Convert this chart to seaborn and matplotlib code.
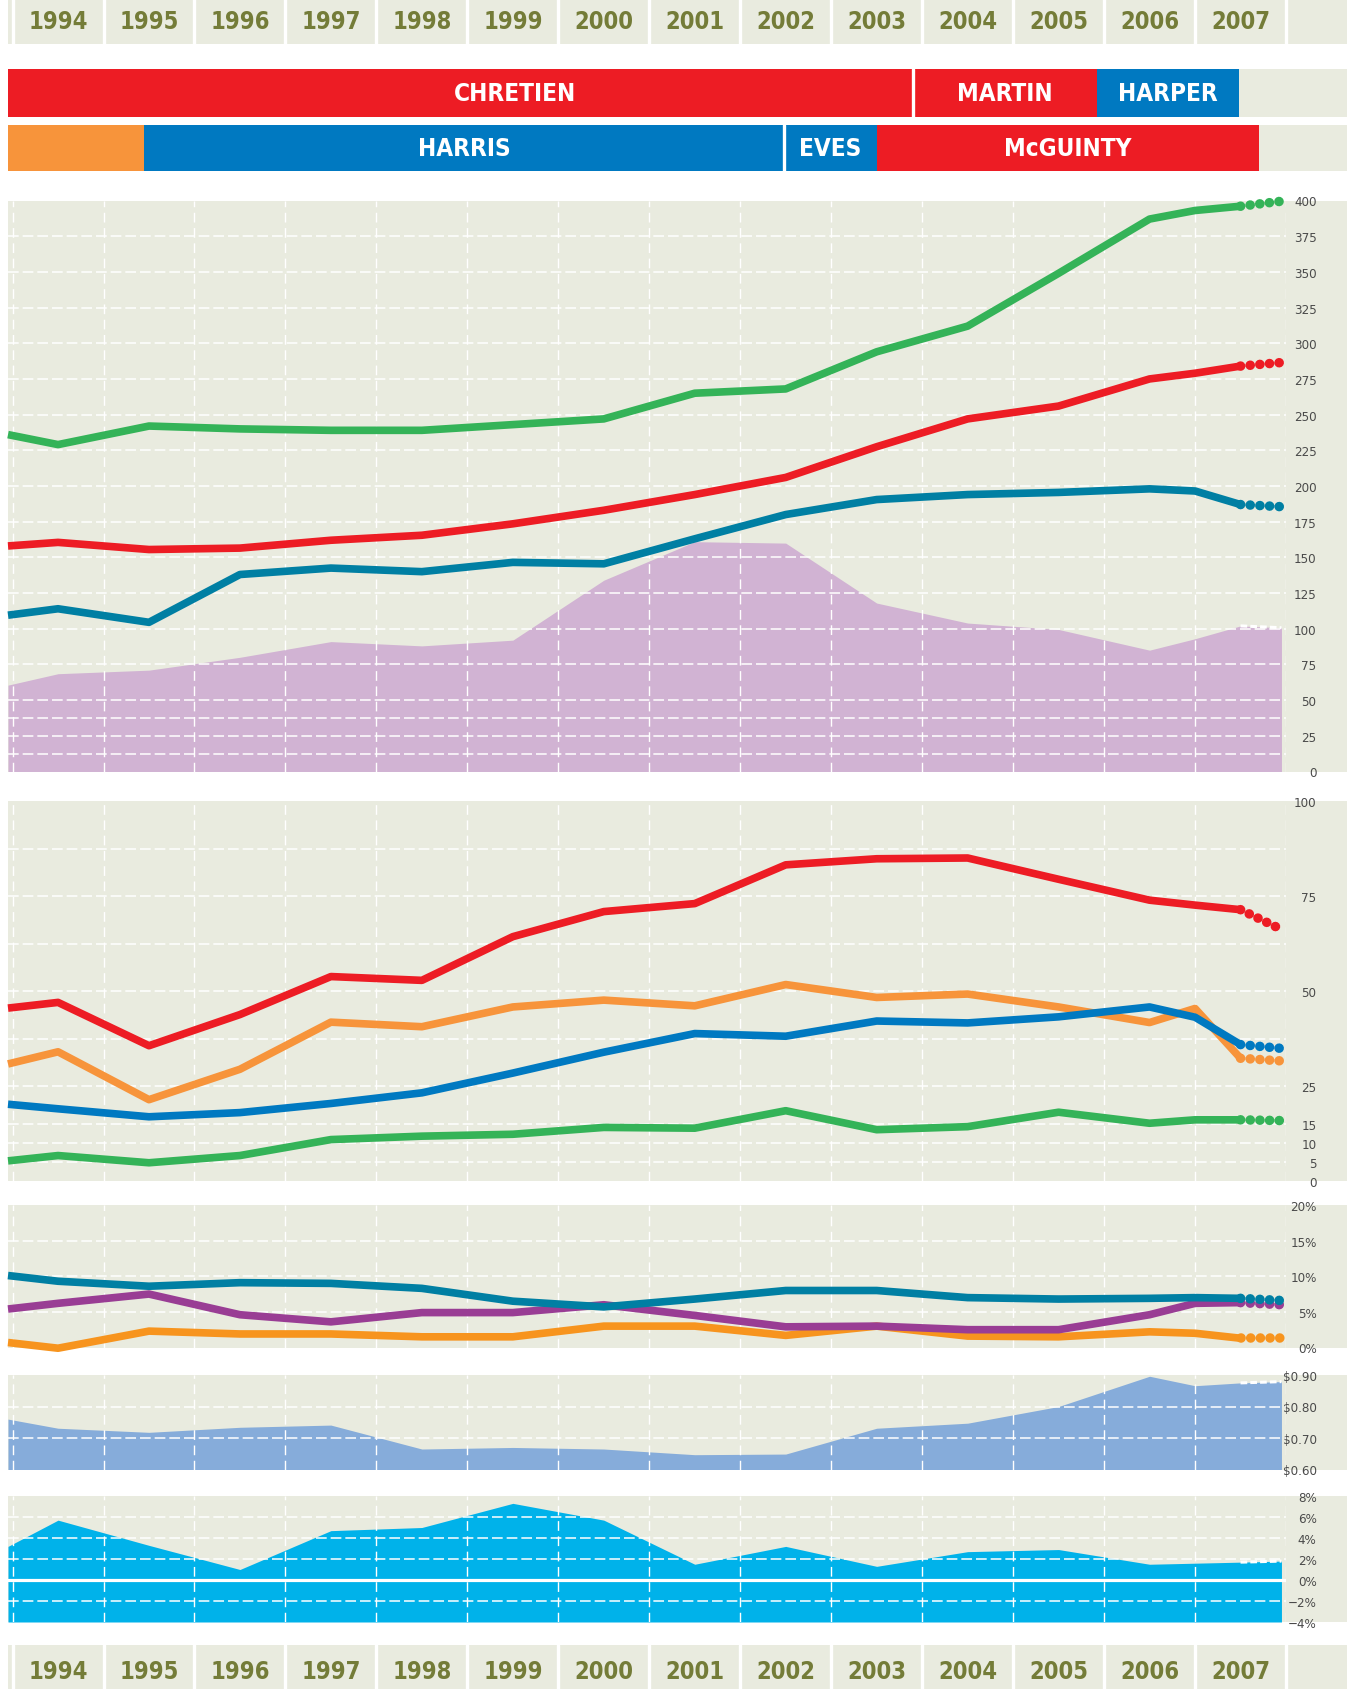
import numpy as np
import pandas as pd
import seaborn as sns
import matplotlib.pyplot as plt
from matplotlib import font_manager as fm
from matplotlib.patches import Rectangle

# x values: left edge of the chart, yearly readings, a mid-2006 reading, 2007
YEARS = [1993.45, 1994, 1995, 1996, 1997, 1998, 1999, 2000, 2001, 2002,
         2003, 2004, 2005, 2006, 2006.5, 2007]
PROJ_END = 2007.45
YEAR_LABELS = list(range(1994, 2008))

# panel 1 (0-400)
p1_green = [236, 229, 242, 240, 239, 239, 243, 247, 265, 268, 294, 312, 349, 387, 393, 396]
p1_red = [158, 160.5, 155.5, 156.5, 162, 165.5, 173.5, 183, 194, 206, 227.5, 247, 256, 275, 279, 284]
p1_teal = [109.5, 114, 104.5, 138, 142.5, 140, 146.5, 145.5, 163, 180, 190.5, 194, 195.5, 198, 196.5, 187]
p1_purple = [60.5, 68.5, 71, 80, 91, 88, 92, 134, 161, 160, 118, 104, 99.5, 85, 93, 102]
p1_proj = {"green": 399.5, "red": 286.5, "teal": 185.5, "purple": 100.7}

# panel 2 (0-100)
p2_red = [45.5, 47, 35.6, 43.8, 53.8, 52.8, 64.3, 70.9, 73, 83.2, 84.8, 85, 79.4, 73.9, 72.6, 71.4]
p2_orange = [30.8, 34, 21.4, 29.4, 41.8, 40.6, 45.8, 47.6, 46.1, 51.7, 48.3, 49.2, 45.8, 41.7, 45.4, 32.3]
p2_blue = [20.2, 19, 16.9, 18, 20.4, 23.2, 28.4, 33.9, 38.8, 38.1, 42.1, 41.6, 43.2, 45.8, 43.1, 35.9]
p2_green = [5.3, 6.7, 4.8, 6.7, 10.9, 11.8, 12.3, 14.1, 13.9, 18.5, 13.5, 14.3, 18.1, 15.2, 16.1, 16.1]
p2_proj = {"red": 66.2, "orange": 31.6, "blue": 34.9, "green": 15.9}

# panel 3 (percent)
p3_teal = [10.1, 9.3, 8.6, 9.1, 9.0, 8.3, 6.5, 5.7, 6.8, 8.0, 8.0, 7.0, 6.8, 6.9, 7.0, 6.9]
p3_purple = [5.4, 6.2, 7.5, 4.6, 3.6, 4.9, 4.9, 6.0, 4.5, 2.9, 3.0, 2.5, 2.5, 4.6, 6.2, 6.3]
p3_orange = [0.7, -0.1, 2.3, 1.9, 1.9, 1.5, 1.5, 3.0, 3.0, 1.7, 3.0, 1.6, 1.5, 2.2, 2.0, 1.3]
p3_proj = {"teal": 6.6, "purple": 6.0, "orange": 1.3}

# panel 4 (dollars)
p4_dollar = [0.760, 0.731, 0.718, 0.734, 0.741, 0.665, 0.670, 0.665, 0.647, 0.649,
             0.731, 0.747, 0.800, 0.896, 0.866, 0.875]
p4_proj = 0.879

# panel 5 (percent)
p5_growth = [3.2, 5.7, 3.3, 1.0, 4.7, 5.0, 7.3, 5.7, 1.5, 3.2, 1.3, 2.7, 2.9, 1.5, 1.6, 1.7]
p5_proj = 1.8

# leaders
FED_NAMES = ["CHRETIEN", "MARTIN", "HARPER"]
FED_START = [1993.0, 2003.40, 2005.42]
FED_END = [2003.40, 2005.42, 2006.98]
FED_PARTY = ["lib", "lib", "con"]
ONT_NAMES = ["", "HARRIS", "EVES", "McGUINTY"]
ONT_START = [1993.0, 1994.95, 2001.98, 2003.0]
ONT_END = [1994.95, 2001.98, 2003.0, 2007.2]
ONT_PARTY = ["ndp", "con", "con", "lib"]

# colours
BEIGE = "#e9ebdf"
OLIVE = "#747c38"
RED = "#ed1c24"
BLUE = "#0079c1"
ORANGE = "#f7943b"
ORANGE2 = "#f7941e"
GREEN = "#34b358"
TEAL = "#007fa3"
PURPLE_LINE = "#993d94"
PURPLE_AREA = "#d1b3d3"
DOLLAR_BLUE = "#86acda"
CYAN = "#00b2ea"
TICK_GREY = "#4a4a4a"
PARTY_COLORS = {"lib": RED, "con": BLUE, "ndp": ORANGE}

sns.set_style("white")

# pick the narrowest face that is installed
fonts = fm.fontManager.ttflist
names = {f.name for f in fonts}
if "Liberation Sans Narrow" in names:
    plt.rcParams["font.family"] = ["Liberation Sans Narrow", "DejaVu Sans"]
    YEAR_SIZE, NAME_SIZE = 20, 20.5
elif any(f.name == "DejaVu Sans" and f.stretch == "condensed" for f in fonts):
    plt.rcParams["font.family"] = ["DejaVu Sans"]
    plt.rcParams["font.stretch"] = "condensed"
    YEAR_SIZE, NAME_SIZE = 17, 17.5
else:
    plt.rcParams["font.family"] = ["Liberation Sans", "DejaVu Sans"]
    YEAR_SIZE, NAME_SIZE = 17, 17.5

W, H = 1347, 1690
fig = plt.figure(figsize=(W / 100, H / 100), dpi=100)

X_LEFT, X_PLOT_RIGHT, X_FULL_RIGHT = 8, 1286, 1347
XMIN, XMAX = 1993.45, 2007.5
ppy = (X_PLOT_RIGHT - X_LEFT) / (XMAX - XMIN)
XMAX_FULL = XMIN + (X_FULL_RIGHT - X_LEFT) / ppy


def make_axes(x0, x1, y0, y1):
    ax = fig.add_axes([x0 / W, 1 - y1 / H, (x1 - x0) / W, (y1 - y0) / H])
    for s in ax.spines.values():
        s.set_visible(False)
    ax.set_xticks([])
    ax.set_yticks([])
    return ax


def year_band(y0, y1):
    ax = make_axes(X_LEFT, X_FULL_RIGHT, y0, y1)
    ax.set_facecolor(BEIGE)
    ax.set_xlim(XMIN, XMAX_FULL)
    ax.set_ylim(0, 1)
    for b in np.arange(1993.5, 2008.5, 1.0):
        ax.axvline(b, color="white", lw=2.4)
    for yr in YEAR_LABELS:
        ax.text(yr, 0.5, str(yr), ha="center", va="center", color=OLIVE,
                fontsize=YEAR_SIZE, fontweight="bold")
    return ax


def leader_row(y0, y1, names, starts, ends, parties, label_shift):
    ax = make_axes(X_LEFT, X_FULL_RIGHT, y0, y1)
    ax.set_facecolor(BEIGE)
    ax.set_xlim(XMIN, XMAX_FULL)
    ax.set_ylim(-0.5, 0.5)
    prev = None
    for name, s, e, p in zip(names, starts, ends, parties):
        ax.barh(0, e - s, left=s, height=1.0, color=PARTY_COLORS[p], lw=0)
        if prev == p:
            ax.axvline(s, color="white", lw=2.4)
        prev = p
        if name:
            cx = max(s, XMIN) / 2 + e / 2 + label_shift.get(name, 0)
            ax.text(cx, 0, name, ha="center", va="center", color="white",
                    fontsize=NAME_SIZE, fontweight="bold")
    return ax


def panel(y0, y1, ylim, ticks, ticklabels, grid_y):
    # beige strip behind the panel, reaching under the tick labels
    fig.patches.append(Rectangle((X_LEFT / W, 1 - y1 / H), (X_FULL_RIGHT - X_LEFT) / W,
                                 (y1 - y0) / H, transform=fig.transFigure,
                                 facecolor=BEIGE, lw=0, zorder=-1))
    ax = make_axes(X_LEFT, X_PLOT_RIGHT, y0, y1)
    ax.set_facecolor(BEIGE)
    ax.set_xlim(XMIN, XMAX)
    ax.set_ylim(*ylim)
    ax.yaxis.tick_right()
    ax.set_yticks(ticks)
    ax.set_yticklabels(ticklabels)
    ax.tick_params(axis="y", length=0, pad=22, labelsize=9.5, labelcolor=TICK_GREY)
    for lab in ax.get_yticklabels():
        lab.set_horizontalalignment("right")
    for g in grid_y:
        ax.axhline(g, color="white", lw=1.1, dashes=(7, 2.6), zorder=2)
    for b in np.arange(1993.5, 2008.0, 1.0):
        ax.axvline(b, color="white", lw=1.0, dashes=(7, 4), zorder=2)
    return ax


def draw_line(ax, vals, proj, color, lw=5.5):
    df = pd.DataFrame({"year": YEARS, "value": vals})
    sns.lineplot(data=df, x="year", y="value", ax=ax, color=color, lw=lw,
                 zorder=3, estimator=None)
    ln = ax.lines[-1]
    ln.set_solid_joinstyle("round")
    ln.set_solid_capstyle("butt")
    ln.set_clip_on(False)
    ax.plot([YEARS[-1], PROJ_END], [vals[-1], proj], color=color, lw=6.9,
            dashes=(0.01, 1.0), dash_capstyle="round", zorder=3, clip_on=False)
    ax.set_xlabel("")
    ax.set_ylabel("")


def draw_area(ax, vals, proj, color, base):
    xs = YEARS + [PROJ_END]
    ys = vals + [proj]
    ax.fill_between(xs, base, ys, color=color, lw=0, zorder=1)
    ax.plot([YEARS[-1], PROJ_END], [vals[-1], proj], color="white", lw=2.2,
            dashes=(2.2, 1.0), zorder=2.5)


# top band and leaders
year_band(-1, 45)
leader_row(70, 117.5, FED_NAMES, FED_START, FED_END, FED_PARTY, {"CHRETIEN": 0.6})
leader_row(126, 172, ONT_NAMES, ONT_START, ONT_END, ONT_PARTY, {})

# panel 1
t1 = list(range(0, 401, 25))
ax1 = panel(201.5, 772.5, (0, 400), t1, [str(t) for t in t1],
            [12.5, 37.5] + list(range(25, 400, 25)))
draw_area(ax1, p1_purple, p1_proj["purple"], PURPLE_AREA, 0)
draw_line(ax1, p1_teal, p1_proj["teal"], TEAL)
draw_line(ax1, p1_red, p1_proj["red"], RED)
draw_line(ax1, p1_green, p1_proj["green"], GREEN)

# panel 2
t2 = [0, 5, 10, 15, 25, 50, 75, 100]
ax2 = panel(802, 1182, (0, 100), t2, [str(t) for t in t2],
            [5, 10, 15, 25, 37.5, 50, 62.5, 75, 87.5])
draw_line(ax2, p2_green, p2_proj["green"], GREEN)
draw_line(ax2, p2_orange, p2_proj["orange"], ORANGE)
draw_line(ax2, p2_blue, p2_proj["blue"], BLUE)
draw_line(ax2, p2_red, p2_proj["red"], RED)

# panel 3
t3 = [0, 5, 10, 15, 20]
ax3 = panel(1206, 1348.5, (0, 20), t3, [f"{t}%" for t in t3], [5, 10, 15])
draw_line(ax3, p3_orange, p3_proj["orange"], ORANGE2)
draw_line(ax3, p3_purple, p3_proj["purple"], PURPLE_LINE)
draw_line(ax3, p3_teal, p3_proj["teal"], TEAL)

# panel 4
t4 = [0.6, 0.7, 0.8, 0.9]
ax4 = panel(1376, 1470.5, (0.6, 0.9), t4, [f"\\${t:.2f}" for t in t4], [0.7, 0.8])
draw_area(ax4, p4_dollar, p4_proj, DOLLAR_BLUE, 0.6)

# panel 5
t5 = [-4, -2, 0, 2, 4, 6, 8]
ax5 = panel(1497, 1623, (-4, 8), t5,
            [("\u2212" if t < 0 else "") + f"{abs(t)}%" for t in t5], [-2, 2, 4, 6])
draw_area(ax5, p5_growth, p5_proj, CYAN, -4)
ax5.axhline(0, color="white", lw=2.3, zorder=2.6)

# bottom band
year_band(1646, 1698)

fig.savefig("out.png", dpi=100)
